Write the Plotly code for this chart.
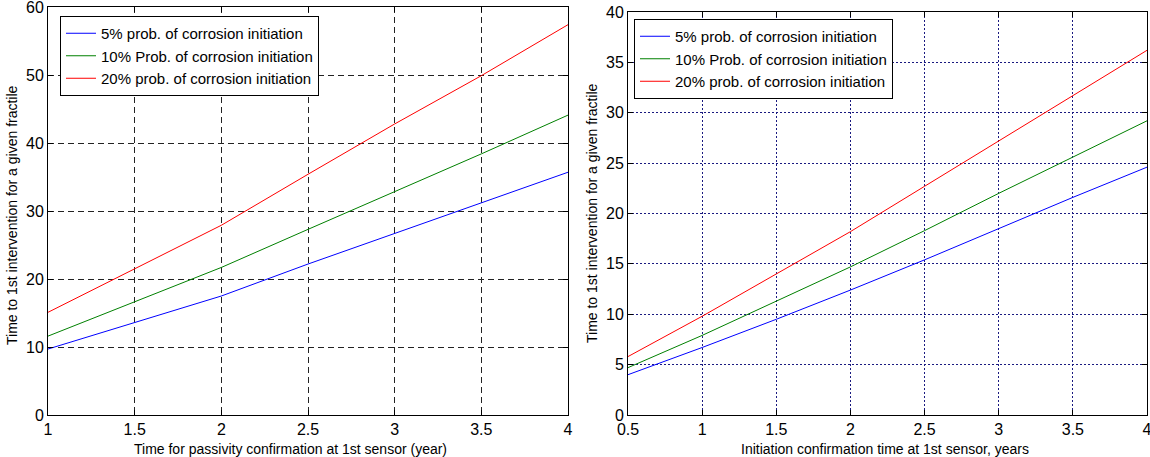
import plotly.graph_objects as go

# Left panel data
x_left = [1, 1.5, 2, 2.5, 3, 3.5, 4]
left_5 = [9.7, 13.6, 17.5, 22.2, 26.7, 31.1, 35.7]
left_10 = [11.6, 16.7, 21.7, 27.3, 32.8, 38.4, 44.1]
left_20 = [15.1, 21.5, 27.9, 35.4, 42.8, 49.9, 57.4]

# Right panel data
x_right = [0.5, 1, 1.5, 2, 2.5, 3, 3.5, 4]
right_5 = [4.0, 6.7, 9.5, 12.4, 15.4, 18.5, 21.6, 24.6]
right_10 = [4.7, 7.9, 11.3, 14.7, 18.3, 22.0, 25.6, 29.2]
right_20 = [5.8, 9.8, 14.0, 18.2, 22.7, 27.2, 31.7, 36.2]

names = ["5% prob. of corrosion initiation",
         "10% Prob. of corrosion initiation",
         "20% prob. of corrosion initiation"]
colors = ["#0000ff", "#008000", "#ff0000"]

W, H = 1150, 457
FONT = "Liberation Sans, Arial, sans-serif"

fig = go.Figure()
for i, (ys, n, c) in enumerate(zip([left_5, left_10, left_20], names, colors)):
    fig.add_trace(go.Scatter(x=x_left, y=ys, mode="lines", name=n,
                             line=dict(color=c, width=1), legendgroup="L%d" % i,
                             xaxis="x", yaxis="y", legend="legend"))
for i, (ys, n, c) in enumerate(zip([right_5, right_10, right_20], names, colors)):
    fig.add_trace(go.Scatter(x=x_right, y=ys, mode="lines", name=n,
                             line=dict(color=c, width=1), legendgroup="R%d" % i,
                             xaxis="x2", yaxis="y2", legend="legend2"))

def px(v):
    return v / W

def py(v):
    return (H - v) / H

axis_common = dict(showline=True, linecolor="black", linewidth=1, mirror="ticks",
                   ticks="inside", ticklen=5, tickcolor="black", zeroline=False,
                   automargin=False, ticklabeloverflow="allow",
                   tickfont=dict(family=FONT, size=16, color="black"), showgrid=True)

title_font = dict(family=FONT, size=14, color="black")
legend_font = dict(family=FONT, size=15, color="black")

fig.update_layout(
    width=W, height=H,
    margin=dict(l=0, r=0, t=0, b=0, autoexpand=False),
    paper_bgcolor="white", plot_bgcolor="white",
    font=dict(family=FONT, size=14, color="black"),
    xaxis=dict(domain=[px(48), px(568)], range=[1, 4], tickvals=[1, 1.5, 2, 2.5, 3, 3.5, 4],
               ticktext=["1", "1.5", "2", "2.5", "3", "3.5", "4"],
               gridcolor="#222222", griddash="6px,4px", gridwidth=1, anchor="y", **axis_common),
    yaxis=dict(domain=[py(415), py(7)], range=[0, 60], tickvals=list(range(0, 61, 10)),
               gridcolor="#222222", griddash="6px,4px", gridwidth=1, anchor="x", **axis_common),
    xaxis2=dict(domain=[px(628), px(1147)], range=[0.5, 4],
                tickvals=[0.5, 1, 1.5, 2, 2.5, 3, 3.5, 4],
                ticktext=["0.5", "1", "1.5", "2", "2.5", "3", "3.5", "4"],
                gridcolor="#1a1a80", griddash="2px,2px", gridwidth=1, anchor="y2", **axis_common),
    yaxis2=dict(domain=[py(415), py(12)], range=[0, 40], tickvals=list(range(0, 41, 5)),
                gridcolor="#1a1a80", griddash="2px,2px", gridwidth=1, anchor="x2", **axis_common),
    legend=dict(x=px(60), y=py(16), xanchor="left", yanchor="top",
                bgcolor="white", bordercolor="black", borderwidth=1,
                font=legend_font, tracegroupgap=0, itemwidth=30),
    legend2=dict(x=px(634), y=py(19), xanchor="left", yanchor="top",
                 bgcolor="white", bordercolor="black", borderwidth=1,
                 font=legend_font, tracegroupgap=0, itemwidth=30),
    annotations=[
        dict(text="Time for passivity confirmation at 1st sensor (year)", x=px(290), y=py(449),
             xref="paper", yref="paper", xanchor="center", yanchor="middle",
             showarrow=False, font=title_font),
        dict(text="Initiation confirmation time at 1st sensor, years", x=px(885), y=py(449),
             xref="paper", yref="paper", xanchor="center", yanchor="middle",
             showarrow=False, font=title_font),
        dict(text="Time to 1st intervention for a given fractile", x=px(12), y=py(215),
             xref="paper", yref="paper", xanchor="center", yanchor="middle",
             showarrow=False, textangle=-90, font=title_font),
        dict(text="Time to 1st intervention for a given fractile", x=px(592), y=py(213),
             xref="paper", yref="paper", xanchor="center", yanchor="middle",
             showarrow=False, textangle=-90, font=title_font),
    ],
)

fig.write_html("out.html", config={"displayModeBar": False},
               post_script="document.body.style.margin='0';document.body.style.overflow='hidden';")
